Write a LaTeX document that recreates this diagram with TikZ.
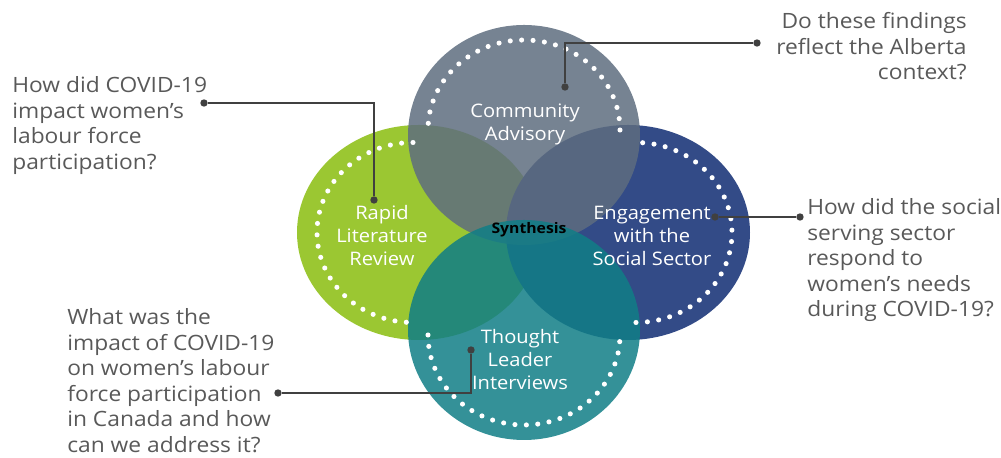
\documentclass[tikz,border=0pt]{standalone}
\usepackage{fontspec}
\setmainfont{Open Sans}[FakeStretch=1.08]

\definecolor{leafgreen}{RGB}{155,199,50}
\definecolor{slategray}{RGB}{94,109,127}
\definecolor{deepnavy}{RGB}{51,75,135}
\definecolor{seateal}{RGB}{16,126,134}
\definecolor{textgray}{RGB}{89,89,89}
\definecolor{linegray}{RGB}{64,64,64}

\tikzset{
  question/.style={text=textgray, inner sep=0pt, font=\fontsize{12}{14.6}\selectfont},
  petal label/.style={text=white, align=center, inner sep=0pt, font=\fontsize{10.6}{13.1}\selectfont},
  ring/.style={white, line width=2.9pt, line cap=round, dash pattern=on 0pt off 6.5pt},
  joint/.style={circle, fill=linegray, inner sep=0pt, minimum size=4.2pt},
  link/.style={linegray, line width=0.8pt},
}

\begin{document}
\begin{tikzpicture}
  \useasboundingbox (0,0) rectangle (20.02,9.16);

  % centres of the four petals
  \coordinate (adv) at (10.48,6.46);
  \coordinate (int) at (10.48,2.56);
  \coordinate (lit) at (8.38,4.51);
  \coordinate (eng) at (12.56,4.51);

  % petals: side ones solid, top and bottom see-through
  \fill[leafgreen] (lit) ellipse [x radius=2.44, y radius=2.15];
  \fill[deepnavy] (eng) ellipse [x radius=2.44, y radius=2.15];
  \fill[slategray, fill opacity=0.85] (adv) ellipse [x radius=2.32, y radius=2.2];
  \fill[seateal, fill opacity=0.85] (int) ellipse [x radius=2.32, y radius=2.2];

  % dotted rings on the outer half of each petal
  \draw[ring] (12.40,6.56) arc[start angle=0, end angle=180, x radius=1.92, y radius=1.80];
  \draw[ring] (8.26,6.31) arc[start angle=90, end angle=270, x radius=1.92, y radius=1.80];
  \draw[ring] (12.72,2.71) arc[start angle=-90, end angle=90, x radius=1.92, y radius=1.80];
  \draw[ring] (8.56,2.46) arc[start angle=180, end angle=360, x radius=1.92, y radius=1.80];

  % petal names
  \node[petal label] (adv-label) at (10.50,6.67) {Community\\Advisory};
  \node[petal label] (lit-label) at (7.64,4.44) {Rapid\\Literature\\Review};
  \node[petal label] (eng-label) at (13.04,4.44) {Engagement\\with the\\Social Sector};
  \node[petal label] (int-label) at (10.40,1.96) {Thought\\Leader\\Interviews};
  \node[font=\bfseries\fontsize{8.3}{10}\selectfont, inner sep=0pt] (synth) at (10.58,4.56) {Synthesis};

  % research questions
  \node[question, anchor=north west, align=left] (q-lit) at (0.24,7.64)
    {How did COVID-19\\impact women’s\\labour force\\participation?};
  \node[question, anchor=north east, align=right] (q-adv) at (19.34,8.92)
    {Do these findings\\reflect the Alberta\\context?};
  \node[question, anchor=north west, align=left] (q-eng) at (16.14,5.20)
    {How did the social\\serving sector\\respond to\\women’s needs\\during COVID-19?};
  \node[question, anchor=north west, align=left] (q-int) at (1.34,3.00)
    {What was the\\impact of COVID-19\\on women’s labour\\force participation\\in Canada and how\\can we address it?};

  % leader lines
  \node[joint] (q-lit-dot) at (4.08,7.10) {};
  \node[joint] (lit-dot) at (7.48,5.16) {};
  \node[joint] (q-adv-dot) at (15.14,8.30) {};
  \node[joint] (adv-dot) at (11.30,7.42) {};
  \node[joint] (q-eng-dot) at (16.00,4.82) {};
  \node[joint] (eng-dot) at (14.30,4.82) {};
  \node[joint] (q-int-dot) at (5.56,1.30) {};
  \node[joint] (int-dot) at (9.42,2.16) {};

  \draw[link] (q-lit-dot) -| (lit-dot);
  \draw[link] (q-adv-dot) -| (adv-dot);
  \draw[link] (q-eng-dot) -- (eng-dot);
  \draw[link] (q-int-dot) -| (int-dot);
\end{tikzpicture}
\end{document}
